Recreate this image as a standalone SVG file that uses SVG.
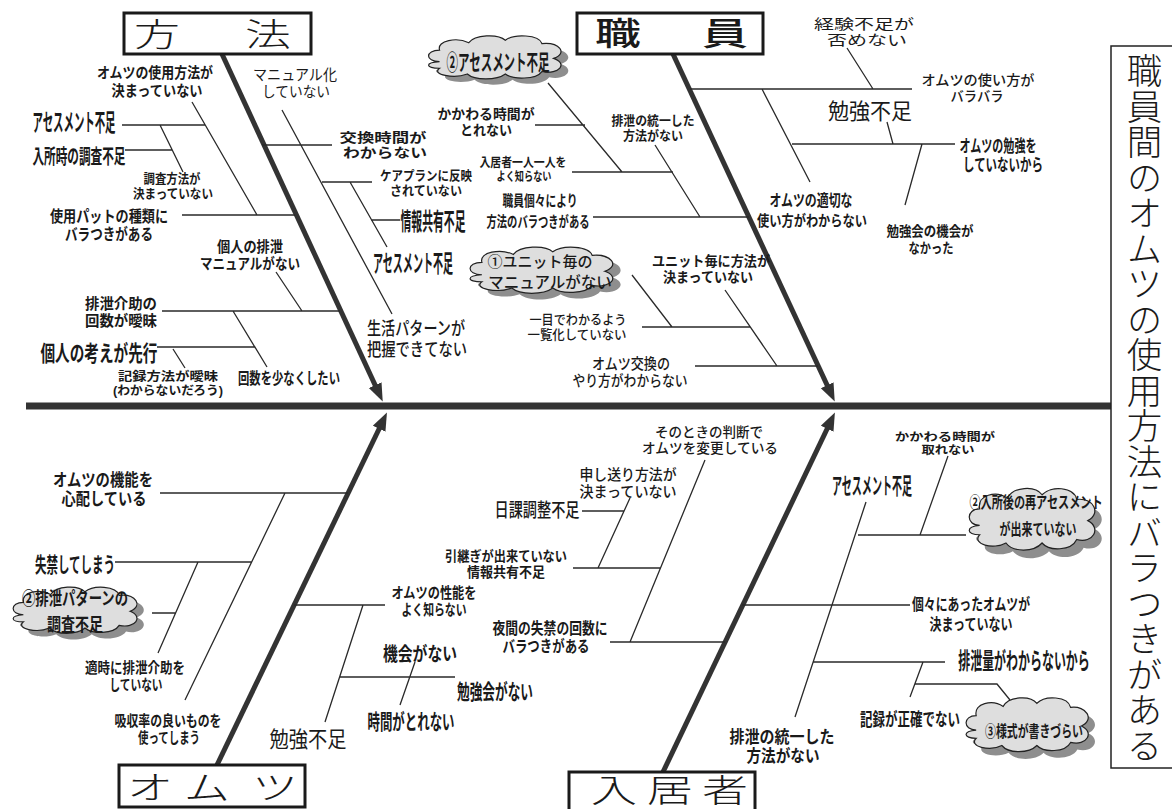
<svg xmlns="http://www.w3.org/2000/svg" xmlns:xlink="http://www.w3.org/1999/xlink" width="1172" height="809" viewBox="0 0 1172 809">
<style>
.t{font-family:"Liberation Sans","Noto Sans CJK JP","Noto Sans CJK SC",sans-serif;fill:#1a1a1a;text-anchor:middle}
.b{font-weight:700}
.m{font-weight:500}
.r{font-weight:400}
.ttl{font-family:"Liberation Sans","Noto Sans CJK JP","Noto Sans CJK SC",sans-serif;font-weight:300;fill:#1a1a1a;text-anchor:middle;font-size:46px}
.vt{font-family:"Liberation Sans","Noto Sans CJK JP","Noto Sans CJK SC",sans-serif;font-weight:300;fill:#1a1a1a;text-anchor:start;font-size:35.5px;writing-mode:vertical-rl}
.box{fill:#fff;stroke:#1a1a1a;stroke-width:3}
.ln{stroke:#2a2a2a;stroke-width:1.3;fill:none}
.bone{stroke:#333;stroke-width:5;fill:none;marker-end:url(#arr)}
.spine{stroke:#333;stroke-width:7}
.cs{fill:#8e8e8e}
.cm{fill:#dedede;stroke:#222;stroke-width:1.2;vector-effect:non-scaling-stroke}
</style>
<defs>
<marker id="arr" markerUnits="userSpaceOnUse" markerWidth="20" markerHeight="16" refX="2" refY="7" orient="auto">
<path d="M0,0 L18,7 L0,14 Z" fill="#333"/>
</marker>
<symbol id="cloud" viewBox="0 0 106 68" preserveAspectRatio="none">
<path class="cs" transform="translate(5,7)" d="M12,36 C2,36 2,22 12,22 C10,10 24,6 32,13 C36,3 52,2 57,10 C63,2 80,3 82,14 C94,12 100,26 90,32 C100,38 94,52 82,48 C78,58 62,58 57,51 C51,59 36,59 31,51 C22,57 6,52 12,44 C2,44 2,37 12,36 Z"/>
<path class="cm" d="M12,36 C2,36 2,22 12,22 C10,10 24,6 32,13 C36,3 52,2 57,10 C63,2 80,3 82,14 C94,12 100,26 90,32 C100,38 94,52 82,48 C78,58 62,58 57,51 C51,59 36,59 31,51 C22,57 6,52 12,44 C2,44 2,37 12,36 Z"/>
</symbol>
</defs>
<rect width="1172" height="809" fill="#fff"/>

<g id="connectors">
<line class="spine" x1="26" y1="406" x2="1111" y2="406"/>
<line class="bone" x1="222" y1="54" x2="376" y2="387"/>
<line class="bone" x1="673" y1="54" x2="828" y2="387"/>
<line class="bone" x1="217" y1="765" x2="380" y2="427"/>
<line class="bone" x1="663" y1="772" x2="828" y2="427"/>
<path class="ln" d="M122,125H205 M125,150H172 M160,125L183,172 M192,102L257,215 M182,215H295 M276,272L302,311 M162,311H340 M233,311L267,367 M157,347H255 M173,349L185,368"/>
<path class="ln" d="M282,110L392,314 M262,145H332 M322,182H372 M350,182L387,247 M371,220H400"/>
<path class="ln" d="M548,83L622,172 M535,125H585 M572,172H673 M655,145L700,217 M593,217H749 M632,275L672,327 M642,327H750 M725,290L777,366 M695,366H818"/>
<path class="ln" d="M690,89H912 M847,48L873,89 M762,89L810,182 M792,144H955 M887,122L893,144 M922,144L905,205"/>
<path class="ln" d="M160,493H348 M285,493L185,700 M115,562H252 M198,562L158,653 M152,613H176 M294,605H385 M363,605L325,722 M340,677H455 M415,662L400,705"/>
<path class="ln" d="M705,460L630,642 M630,498L598,568 M582,511H624 M573,568H661 M610,642H725 M948,456L920,535 M858,535H966 M866,502L795,717 M742,605H910 M813,662H945 M923,662L910,697 M915,684H997L1010,700"/>
</g>

<g id="cat-houhou"><rect class="box" x="124" y="13" width="187" height="41"/><text class="ttl" transform="translate(0,46) scale(1,0.7)" x="157 268" y="0">方法</text></g>
<g id="cat-shokuin"><rect class="box" x="577" y="13" width="186" height="41"/><text class="ttl" style="font-weight:500" transform="translate(0,45) scale(1,0.7)" x="618 725" y="0">職員</text></g>
<g id="cat-omutsu"><rect class="box" x="119" y="765" width="186" height="42"/><text class="ttl" transform="translate(0,799) scale(1,0.7)" x="150 207 275" y="0">オムツ</text></g>
<g id="cat-nyukyosha"><rect class="box" x="569" y="772" width="186" height="45"/><text class="ttl" transform="translate(0,802) scale(1,0.7)" x="614 670 725" y="0">入居者</text></g>

<g id="effect"><rect x="1111" y="46" width="80" height="722" fill="#fff" stroke="#222" stroke-width="1.5"/><text class="vt" x="1141" y="53">職員間のオムツの使用方法にバラつきがある</text></g>

<g id="n1"><text class="t b" x="155" y="78" font-size="15" textLength="116" lengthAdjust="spacingAndGlyphs">オムツの使用方法が</text><text class="t b" x="157" y="96" font-size="15" textLength="91" lengthAdjust="spacingAndGlyphs">決まっていない</text></g>
<g id="n2"><text class="t b" x="74" y="131" font-size="24" textLength="83" lengthAdjust="spacingAndGlyphs">アセスメント不足</text></g>
<g id="n3"><text class="t b" x="79" y="164" font-size="20" textLength="93" lengthAdjust="spacingAndGlyphs">入所時の調査不足</text></g>
<g id="n4"><text class="t b" x="172" y="183" font-size="13" textLength="57" lengthAdjust="spacingAndGlyphs">調査方法が</text><text class="t b" x="173" y="198" font-size="13" textLength="80" lengthAdjust="spacingAndGlyphs">決まっていない</text></g>
<g id="n5"><text class="t b" x="109" y="222" font-size="16" textLength="118" lengthAdjust="spacingAndGlyphs">使用パットの種類に</text><text class="t b" x="109" y="240" font-size="16" textLength="88" lengthAdjust="spacingAndGlyphs">バラつきがある</text></g>
<g id="n6"><text class="t b" x="250" y="252" font-size="15" textLength="66" lengthAdjust="spacingAndGlyphs">個人の排泄</text><text class="t b" x="250" y="269" font-size="15" textLength="100" lengthAdjust="spacingAndGlyphs">マニュアルがない</text></g>
<g id="n7"><text class="t b" x="121" y="309" font-size="15" textLength="72" lengthAdjust="spacingAndGlyphs">排泄介助の</text><text class="t b" x="121" y="326" font-size="15" textLength="72" lengthAdjust="spacingAndGlyphs">回数が曖昧</text></g>
<g id="n8"><text class="t b" x="99" y="361" font-size="22" textLength="117" lengthAdjust="spacingAndGlyphs">個人の考えが先行</text></g>
<g id="n9"><text class="t b" x="168" y="381" font-size="12" textLength="100" lengthAdjust="spacingAndGlyphs">記録方法が曖昧</text><text class="t b" x="168" y="395" font-size="12" textLength="110" lengthAdjust="spacingAndGlyphs">(わからないだろう)</text></g>
<g id="n10"><text class="t b" x="289" y="384" font-size="16" textLength="102" lengthAdjust="spacingAndGlyphs">回数を少なくしたい</text></g>
<g id="n11"><text class="t r" x="295" y="80" font-size="15" textLength="84" lengthAdjust="spacingAndGlyphs">マニュアル化</text><text class="t r" x="296" y="97" font-size="15" textLength="68" lengthAdjust="spacingAndGlyphs">していない</text></g>
<g id="n12"><text class="t b" x="383" y="142" font-size="13" textLength="87" lengthAdjust="spacingAndGlyphs">交換時間が</text><text class="t b" x="385" y="157" font-size="13" textLength="84" lengthAdjust="spacingAndGlyphs">わからない</text></g>
<g id="n13"><text class="t b" x="426" y="180" font-size="13" textLength="92" lengthAdjust="spacingAndGlyphs">ケアプランに反映</text><text class="t b" x="426" y="195" font-size="13" textLength="72" lengthAdjust="spacingAndGlyphs">されていない</text></g>
<g id="n14"><text class="t b" x="433" y="230" font-size="24" textLength="65" lengthAdjust="spacingAndGlyphs">情報共有不足</text></g>
<g id="n15"><text class="t b" x="413" y="272" font-size="24" textLength="80" lengthAdjust="spacingAndGlyphs">アセスメント不足</text></g>
<g id="n16"><text class="t m" x="416" y="335" font-size="18" textLength="98" lengthAdjust="spacingAndGlyphs">生活パターンが</text><text class="t m" x="417" y="356" font-size="18" textLength="100" lengthAdjust="spacingAndGlyphs">把握できてない</text></g>

<g id="n17"><use xlink:href="#cloud" x="422" y="32" width="155" height="56"/><text class="t b" x="498" y="70" font-size="22" textLength="103" lengthAdjust="spacingAndGlyphs">②アセスメント不足</text></g>
<g id="n18"><text class="t b" x="486" y="119" font-size="14" textLength="97" lengthAdjust="spacingAndGlyphs">かかわる時間が</text><text class="t b" x="486" y="135" font-size="14" textLength="52" lengthAdjust="spacingAndGlyphs">とれない</text></g>
<g id="n19"><text class="t b" x="653" y="125" font-size="13" textLength="83" lengthAdjust="spacingAndGlyphs">排泄の統一した</text><text class="t b" x="653" y="140" font-size="13" textLength="60" lengthAdjust="spacingAndGlyphs">方法がない</text></g>
<g id="n20"><text class="t b" x="523" y="167" font-size="12.5" textLength="87" lengthAdjust="spacingAndGlyphs">入居者一人一人を</text><text class="t b" x="524" y="181" font-size="12.5" textLength="55" lengthAdjust="spacingAndGlyphs">よく知らない</text></g>
<g id="n21"><text class="t b" x="540" y="206" font-size="15" textLength="75" lengthAdjust="spacingAndGlyphs">職員個々により</text><text class="t b" x="538" y="227" font-size="15" textLength="103" lengthAdjust="spacingAndGlyphs">方法のバラつきがある</text></g>
<g id="n22"><use xlink:href="#cloud" x="463" y="243" width="167" height="60"/><text class="t m" x="540" y="267" font-size="15">①ユニット毎の</text><text class="t m" x="550" y="288" font-size="15.5">マニュアルがない</text></g>
<g id="n23"><text class="t b" x="711" y="266" font-size="14" textLength="118" lengthAdjust="spacingAndGlyphs">ユニット毎に方法が</text><text class="t b" x="708" y="282" font-size="14" textLength="90" lengthAdjust="spacingAndGlyphs">決まっていない</text></g>
<g id="n24"><text class="t m" x="578" y="324" font-size="13" textLength="97" lengthAdjust="spacingAndGlyphs">一目でわかるよう</text><text class="t m" x="577" y="339" font-size="13" textLength="99" lengthAdjust="spacingAndGlyphs">一覧化していない</text></g>
<g id="n25"><text class="t m" x="631" y="369" font-size="15" textLength="78" lengthAdjust="spacingAndGlyphs">オムツ交換の</text><text class="t m" x="630" y="386" font-size="15" textLength="115" lengthAdjust="spacingAndGlyphs">やり方がわからない</text></g>
<g id="n26"><text class="t r" x="864" y="29" font-size="14" textLength="100" lengthAdjust="spacingAndGlyphs">経験不足が</text><text class="t r" x="867" y="45" font-size="14" textLength="80" lengthAdjust="spacingAndGlyphs">否めない</text></g>
<g id="n27"><text class="t m" x="978" y="85" font-size="14" textLength="113" lengthAdjust="spacingAndGlyphs">オムツの使い方が</text><text class="t m" x="977" y="101" font-size="14" textLength="53" lengthAdjust="spacingAndGlyphs">バラバラ</text></g>
<g id="n28"><text class="t r" x="870" y="119" font-size="22" textLength="84" lengthAdjust="spacingAndGlyphs">勉強不足</text></g>
<g id="n29"><text class="t b" x="998" y="152" font-size="17" textLength="77" lengthAdjust="spacingAndGlyphs">オムツの勉強を</text><text class="t b" x="1003" y="171" font-size="17" textLength="80" lengthAdjust="spacingAndGlyphs">していないから</text></g>
<g id="n30"><text class="t b" x="930" y="236" font-size="14" textLength="87" lengthAdjust="spacingAndGlyphs">勉強会の機会が</text><text class="t b" x="931" y="253" font-size="14" textLength="45" lengthAdjust="spacingAndGlyphs">なかった</text></g>
<g id="n31"><text class="t b" x="811" y="206" font-size="16" textLength="83" lengthAdjust="spacingAndGlyphs">オムツの適切な</text><text class="t b" x="812" y="226" font-size="14.5" textLength="110" lengthAdjust="spacingAndGlyphs">使い方がわからない</text></g>

<g id="n32"><text class="t b" x="103" y="486" font-size="17" textLength="100" lengthAdjust="spacingAndGlyphs">オムツの機能を</text><text class="t b" x="104" y="505" font-size="17" textLength="85" lengthAdjust="spacingAndGlyphs">心配している</text></g>
<g id="n33"><text class="t b" x="75" y="572" font-size="21" textLength="80" lengthAdjust="spacingAndGlyphs">失禁してしまう</text></g>
<g id="n34"><use xlink:href="#cloud" x="7" y="583" width="145" height="60"/><text class="t b" x="75" y="605" font-size="18" textLength="106" lengthAdjust="spacingAndGlyphs">②排泄パターンの</text><text class="t b" x="75" y="631" font-size="18" textLength="56" lengthAdjust="spacingAndGlyphs">調査不足</text></g>
<g id="n35"><text class="t b" x="135" y="673" font-size="15" textLength="100" lengthAdjust="spacingAndGlyphs">適時に排泄介助を</text><text class="t b" x="136" y="690" font-size="15" textLength="53" lengthAdjust="spacingAndGlyphs">していない</text></g>
<g id="n36"><text class="t b" x="168" y="726" font-size="15" textLength="107" lengthAdjust="spacingAndGlyphs">吸収率の良いものを</text><text class="t b" x="169" y="743" font-size="15" textLength="62" lengthAdjust="spacingAndGlyphs">使ってしまう</text></g>
<g id="n37"><text class="t r" x="308" y="747" font-size="22" textLength="77" lengthAdjust="spacingAndGlyphs">勉強不足</text></g>
<g id="n38"><text class="t b" x="434" y="598" font-size="15" textLength="85" lengthAdjust="spacingAndGlyphs">オムツの性能を</text><text class="t b" x="434" y="615" font-size="15" textLength="65" lengthAdjust="spacingAndGlyphs">よく知らない</text></g>
<g id="n39"><text class="t b" x="420" y="661" font-size="19" textLength="74" lengthAdjust="spacingAndGlyphs">機会がない</text></g>
<g id="n40"><text class="t b" x="495" y="699" font-size="21" textLength="76" lengthAdjust="spacingAndGlyphs">勉強会がない</text></g>
<g id="n41"><text class="t b" x="411" y="729" font-size="21" textLength="87" lengthAdjust="spacingAndGlyphs">時間がとれない</text></g>

<g id="n42"><text class="t m" x="709" y="437" font-size="14" textLength="108" lengthAdjust="spacingAndGlyphs">そのときの判断で</text><text class="t m" x="710" y="453" font-size="14" textLength="136" lengthAdjust="spacingAndGlyphs">オムツを変更している</text></g>
<g id="n43"><text class="t m" x="628" y="480" font-size="15" textLength="97" lengthAdjust="spacingAndGlyphs">申し送り方法が</text><text class="t m" x="628" y="497" font-size="15" textLength="97" lengthAdjust="spacingAndGlyphs">決まっていない</text></g>
<g id="n44"><text class="t m" x="537" y="517" font-size="19" textLength="85" lengthAdjust="spacingAndGlyphs">日課調整不足</text></g>
<g id="n45"><text class="t b" x="506" y="561" font-size="14" textLength="122" lengthAdjust="spacingAndGlyphs">引継ぎが出来ていない</text><text class="t b" x="506" y="577" font-size="14" textLength="78" lengthAdjust="spacingAndGlyphs">情報共有不足</text></g>
<g id="n46"><text class="t b" x="550" y="634" font-size="16" textLength="115" lengthAdjust="spacingAndGlyphs">夜間の失禁の回数に</text><text class="t b" x="546" y="652" font-size="16" textLength="87" lengthAdjust="spacingAndGlyphs">バラつきがある</text></g>
<g id="n47"><text class="t b" x="945" y="441" font-size="11.5" textLength="100" lengthAdjust="spacingAndGlyphs">かかわる時間が</text><text class="t b" x="948" y="454" font-size="11.5" textLength="53" lengthAdjust="spacingAndGlyphs">取れない</text></g>
<g id="n48"><text class="t b" x="872" y="494" font-size="23" textLength="80" lengthAdjust="spacingAndGlyphs">アセスメント不足</text></g>
<g id="n49"><use xlink:href="#cloud" x="963" y="483" width="147" height="80"/><text class="t b" x="1036" y="508" font-size="16" textLength="133" lengthAdjust="spacingAndGlyphs">②入所後の再アセスメント</text><text class="t b" x="1038" y="535" font-size="16" textLength="77" lengthAdjust="spacingAndGlyphs">が出来ていない</text></g>
<g id="n50"><text class="t b" x="971" y="610" font-size="16" textLength="118" lengthAdjust="spacingAndGlyphs">個々にあったオムツが</text><text class="t b" x="971" y="630" font-size="16" textLength="83" lengthAdjust="spacingAndGlyphs">決まっていない</text></g>
<g id="n51"><text class="t b" transform="translate(1024,669) scale(0.52,1)" x="0" y="0" font-size="23">排泄量がわからないから</text></g>
<g id="n52"><text class="t b" x="910" y="726" font-size="18" textLength="100" lengthAdjust="spacingAndGlyphs">記録が正確でない</text></g>
<g id="n53"><use xlink:href="#cloud" x="960" y="693" width="143" height="70"/><text class="t b" x="1034" y="737" font-size="16" textLength="98" lengthAdjust="spacingAndGlyphs">③様式が書きづらい</text></g>
<g id="n54"><text class="t b" x="782" y="743" font-size="17" textLength="105" lengthAdjust="spacingAndGlyphs">排泄の統一した</text><text class="t b" x="783" y="762" font-size="17" textLength="73" lengthAdjust="spacingAndGlyphs">方法がない</text></g>
</svg>
